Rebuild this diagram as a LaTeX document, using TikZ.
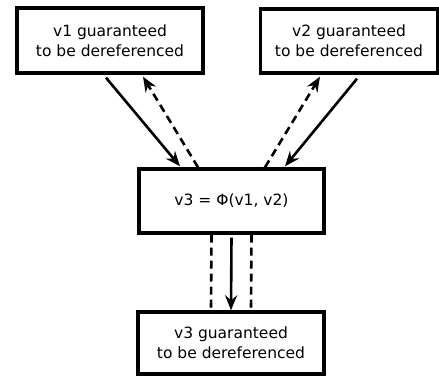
\documentclass[tikz,border=0pt]{standalone}
\usepackage{fontspec}
\setmainfont{DejaVu Sans}
\usetikzlibrary{arrows.meta}
\begin{document}
\begin{tikzpicture}[x=1pt,y=-1pt,
  box/.style={draw, line width=3.4pt, align=center, inner sep=0pt, font=\fontsize{15.5}{20}\selectfont},
  solidarrow/.style={line width=2.6pt, -{Stealth[length=15pt,width=12pt,inset=5pt]}},
  dashedarrow/.style={line width=2.6pt, dash pattern=on 8pt off 5pt, -{Stealth[length=15pt,width=12pt,inset=5pt]}},
  dashedline/.style={line width=2.6pt, dash pattern=on 8pt off 5pt}]
\useasboundingbox (0,0) rectangle (439,375);
\node[box, minimum width=186pt, minimum height=65pt] (b1) at (110,40.5) {v1 guaranteed\\to be dereferenced};
\node[box, minimum width=177pt, minimum height=64pt] (b2) at (349,41) {v2 guaranteed\\to be dereferenced};
\node[box, minimum width=185pt, minimum height=64pt] (m) at (231.5,201) {v3 = Φ(v1, v2)};
\node[box, minimum width=186pt, minimum height=62pt] (b3) at (231,343) {v3 guaranteed\\to be dereferenced};
% left pair
\draw[solidarrow] ([xshift=-4pt,yshift=-3pt]b1.south) -- ([xshift=-51.5pt,yshift=1pt]m.north);
\draw[dashedarrow] ([xshift=-33.5pt]m.north) -- ([xshift=33pt,yshift=-2pt]b1.south);
% right pair
\draw[solidarrow] ([xshift=8pt,yshift=-4pt]b2.south) -- ([xshift=53.5pt,yshift=1pt]m.north);
\draw[dashedarrow] ([xshift=33.5pt]m.north) -- ([xshift=-29pt,yshift=-2pt]b2.south);
% bottom
\draw[solidarrow] ([yshift=-3pt]m.south) -- (b3.north);
\draw[dashedline] ([xshift=-20pt]m.south) -- ([xshift=-20pt]b3.north);
\draw[dashedline] ([xshift=20pt]m.south) -- ([xshift=20pt]b3.north);
\end{tikzpicture}
\end{document}
